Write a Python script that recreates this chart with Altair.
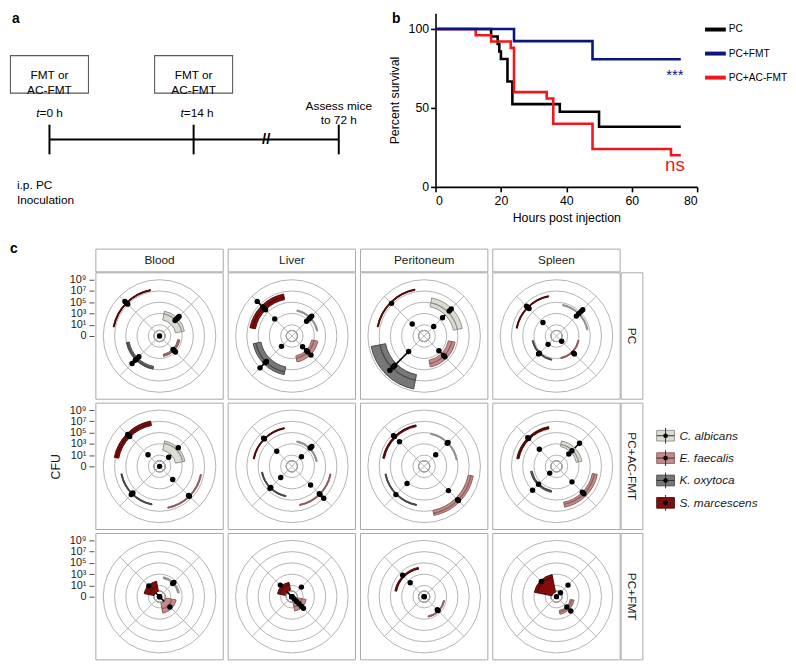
import math
import altair as alt
import pandas as pd

FONT = "Liberation Sans"

# ======================= panel a : schedule =======================
dose_hours = [0, 14]
dose_labels = ["FMT or\nAC-FMT", "FMT or\nAC-FMT"]
time_hours = [0, 14, 72]
time_italic = ["t", "t", ""]
time_rest = ["=0 h", "=14 h", ""]
end_label = ["Assess mice\nto 72 h"]
start_label = ["i.p. PC\nInoculation"]
break_hours = [43]
timeline_span = [0, 72]

# ======================= panel b : survival =======================
km_groups = ["PC", "PC+FMT", "PC+AC-FMT"]
km_colors = ["#000000", "#0b1480", "#f0161b"]
pc_hours = [0, 17, 19, 19.5, 20, 22, 23.5, 38, 50, 75]
pc_surv = [100, 95.2, 90.5, 85.7, 81.0, 66.7, 52.4, 47.6, 38.1, 38.1]
fmt_hours = [0, 24, 48, 75]
fmt_surv = [100, 92.3, 80.8, 80.8]
acfmt_hours = [0, 12.3, 17, 23, 24, 34, 36, 48, 72, 75]
acfmt_surv = [100, 96, 92, 88, 60, 56, 40, 24, 20, 20]
sig_labels = ["***", "ns"]
sig_groups = ["PC+FMT", "PC+AC-FMT"]
sig_hours = [73.2, 73.2]
sig_surv = [71, 14]

# ======================= panel c : CFU polar boxplots =======================
organs = ["Blood", "Liver", "Peritoneum", "Spleen"]
treatments = ["PC", "PC+AC-FMT", "PC+FMT"]
species = ["C. albicans", "E. faecalis", "K. oxytoca", "S. marcescens"]
sp_fill = ["#dcdcd5", "#c38b8b", "#777777", "#860b0b"]
sp_line = ["#8f8f8a", "#8e5e5e", "#474747", "#4e0c0c"]
cfu_ticks = [-1, 1, 3, 5, 7, 9]          # log10 CFU, -1 stands for 0 CFU
cfu_labels = ["0", "10¹", "10³", "10⁵", "10⁷", "10⁹"]

# quartiles per (treatment, organ): [C. alb, E. faec, K. oxy, S. marc] in log10 CFU
box_q1 = {
    ("PC", "Blood"): [1.9, 2.3, 4.5, 7.2],
    ("PC", "Liver"): [3.5, 2.6, 4.6, 5.6],
    ("PC", "Peritoneum"): [4.3, 3.4, 6.0, 7.3],
    ("PC", "Spleen"): [4.5, 2.9, 3.2, 6.1],
    ("PC+AC-FMT", "Blood"): [1.9, 6.4, 5.8, 6.4],
    ("PC+AC-FMT", "Liver"): [3.4, 5.9, 4.3, 5.8],
    ("PC+AC-FMT", "Peritoneum"): [4.8, 7.0, 5.9, 6.2],
    ("PC+AC-FMT", "Spleen"): [2.6, 5.5, 3.4, 5.8],
    ("PC+FMT", "Blood"): [2.3, 0.2, -1, 0.0],
    ("PC+FMT", "Liver"): [-1, 0.0, -1, 0.2],
    ("PC+FMT", "Peritoneum"): [-1, 2.5, -1, 4.0],
    ("PC+FMT", "Spleen"): [-1, 1.5, -1, -0.2],
}
box_med = {
    ("PC", "Blood"): [3.0, 2.5, 4.8, 7.3],
    ("PC", "Liver"): [3.6, 3.0, 5.5, 6.1],
    ("PC", "Peritoneum"): [5.0, 4.0, 7.0, 7.4],
    ("PC", "Spleen"): [4.6, 3.0, 3.3, 6.2],
    ("PC+AC-FMT", "Blood"): [3.2, 6.5, 5.9, 6.8],
    ("PC+AC-FMT", "Liver"): [3.5, 6.0, 4.4, 5.9],
    ("PC+AC-FMT", "Peritoneum"): [4.9, 7.5, 6.0, 6.4],
    ("PC+AC-FMT", "Spleen"): [3.0, 5.9, 3.5, 6.0],
    ("PC+FMT", "Blood"): [2.4, 1.2, -1, 0.8],
    ("PC+FMT", "Liver"): [-1, 0.8, -1, 1.2],
    ("PC+FMT", "Peritoneum"): [-1, 2.6, -1, 4.1],
    ("PC+FMT", "Spleen"): [-1, 1.8, -1, 2.5],
}
box_q3 = {
    ("PC", "Blood"): [3.5, 2.7, 5.0, 7.4],
    ("PC", "Liver"): [3.7, 3.7, 6.0, 6.6],
    ("PC", "Peritoneum"): [5.9, 4.6, 8.6, 7.5],
    ("PC", "Spleen"): [4.7, 3.1, 3.4, 6.3],
    ("PC+AC-FMT", "Blood"): [3.6, 6.6, 6.0, 7.2],
    ("PC+AC-FMT", "Liver"): [3.6, 6.1, 4.5, 6.0],
    ("PC+AC-FMT", "Peritoneum"): [5.0, 7.9, 6.1, 6.5],
    ("PC+AC-FMT", "Spleen"): [3.6, 6.4, 3.7, 6.2],
    ("PC+FMT", "Blood"): [2.6, 2.0, -1, 1.8],
    ("PC+FMT", "Liver"): [-1, 1.6, -1, 1.6],
    ("PC+FMT", "Peritoneum"): [-1, 2.7, -1, 4.3],
    ("PC+FMT", "Spleen"): [-1, 2.2, -1, 3.0],
}
cfu_points = {
    ("PC", "Blood"): [[-1, 2.9, 3.2, 3.6, 3.9], [2.4, 2.7, 3.0], [4.2, 4.8, 5.1, 5.9], [7.0, 7.3, 7.7]],
    ("PC", "Liver"): [[2.7, 3.3, 3.7, 4.0], [1.7, 2.7, 3.0, 3.8], [1.6, 5.4, 5.7, 7.0], [3.3, 5.6, 6.0, 6.3, 7.7]],
    ("PC", "Peritoneum"): [[1.4, 3.6, 5.3, 5.8], [2.7, 3.9, 4.2], [2.9, 6.4, 6.8, 7.6], [2.0, 7.2]],
    ("PC", "Spleen"): [[4.0, 4.6, 5.2, 5.6], [0.3, 3.3, 3.5], [1.1, 3.3, 3.5], [2.4, 5.9, 6.2, 6.5]],
    ("PC+AC-FMT", "Blood"): [[-1, 1.3, 3.7], [2.3, 6.3, 6.5], [5.7, 5.9, 6.1], [1.9, 6.5, 6.8, 7.0]],
    ("PC+AC-FMT", "Liver"): [[1.4, 3.6, 3.8, 4.0], [3.7, 5.9, 6.1, 7.0], [1.8, 4.3, 4.5], [2.8, 5.9, 6.1]],
    ("PC+AC-FMT", "Peritoneum"): [[1.9, 4.8, 5.0], [5.1, 7.4, 7.6], [3.3, 6.1], [5.2, 6.5, 6.7]],
    ("PC+AC-FMT", "Spleen"): [[2.1, 2.9, 4.8], [2.9, 5.5, 5.9], [0.7, 3.5, 5.0], [3.3, 6.0, 6.2]],
    ("PC+FMT", "Blood"): [[2.3, 2.6], [-1, 1.6], [-1], [-1, 1.7]],
    ("PC+FMT", "Liver"): [[-1, 1.4], [-0.4, 0.2, 0.8, 1.4, 1.9], [-1], [-1, 1.9]],
    ("PC+FMT", "Peritoneum"): [[-1], [2.3, 2.5], [-1], [2.5, 4.4]],
    ("PC+FMT", "Spleen"): [[0.0, 1.9], [1.6, 2.6], [-1], [2.8]],
}

# ------------------------------------------------------------------
# geometry / style constants
W, H, R = 129, 128, 57          # panel size and radius of the outer ring (px)
GRID = "#a0a0a0"
FRAME = "#a8a8a8"
LEFT = 87                       # distance from grid/plot origin to left page edge
tmin, tmax = cfu_ticks[0], cfu_ticks[-1]
span = tmax - tmin
ppu = R / span
xdom, ydom = W / 2 / ppu, H / 2 / ppu
xs = alt.Scale(domain=[-xdom, xdom], nice=False, zero=False)
ys = alt.Scale(domain=[-ydom, ydom], nice=False, zero=False)
rs = alt.Scale(type="linear", domain=[tmin, tmax], range=[0, R], zero=False, nice=False)
half = 0.75 * math.pi / len(species)
ANG = f"(datum.idx + 0.5) * 2 * PI / {len(species)}"
fill_scale = alt.Scale(domain=species, range=sp_fill)
line_scale = alt.Scale(domain=species, range=sp_line)

# ------------------------------------------------------------------
# tables for panel c
box_rows, pt_rows, wh_rows = [], [], []
for key in box_q1:
    t, o = key
    for i, sp in enumerate(species):
        q1, md, q3 = box_q1[key][i], box_med[key][i], box_q3[key][i]
        pts = cfu_points[key][i]
        box_rows.append(dict(treat=t, organ=o, species=sp, idx=i, q1=q1, med=md, q3=q3))
        for v in pts:
            pt_rows.append(dict(treat=t, organ=o, species=sp, idx=i, cfu=v))
        if q3 > tmin:
            iqr = q3 - q1
            lo = min([p for p in pts if p >= q1 - 1.5 * iqr] + [q1])
            hi = max([p for p in pts if p <= q3 + 1.5 * iqr] + [q3])
            if lo < q1:
                wh_rows.append(dict(treat=t, organ=o, species=sp, idx=i, a=lo, b=q1))
            if hi > q3:
                wh_rows.append(dict(treat=t, organ=o, species=sp, idx=i, a=q3, b=hi))
box_df = pd.DataFrame(box_rows)
pt_df = pd.DataFrame(pt_rows)
wh_df = pd.DataFrame(wh_rows)
ring_df = pd.DataFrame({"tick": cfu_ticks[1:]})
sp_df = pd.DataFrame({"species": species, "idx": list(range(len(species)))})
one_df = pd.DataFrame({"k": [0]})

axis_vals = [v - tmin for v in cfu_ticks]
label_expr = "[" + ",".join("'" + l + "'" for l in cfu_labels) + "][indexof([" + ",".join(str(v) for v in axis_vals) + "], datum.value)]"


def cfu_panel(ti, oi):
    t, o = treatments[ti], organs[oi]
    bsub = box_df[(box_df.treat == t) & (box_df.organ == o) & (box_df.q3 > tmin)]
    psub = pt_df[(pt_df.treat == t) & (pt_df.organ == o)]
    wsub = wh_df[(wh_df.treat == t) & (wh_df.organ == o)]
    if oi == 0:
        yaxis = alt.Axis(values=axis_vals, labelExpr=label_expr, title=("CFU" if ti == 1 else ""),
                         domain=False, grid=False, tickSize=5, tickColor="#4d4d4d", tickWidth=1,
                         offset=2, labelPadding=3, labelFontSize=11, labelColor="#1a1a1a",
                         labelOverlap=False, labelBound=False, labelFlush=False,
                         titleFontSize=12.5, titleFontWeight="normal", titleColor="#1a1a1a",
                         titlePadding=7)
    else:
        yaxis = None
    X = lambda f: alt.X(f, type="quantitative", scale=xs, axis=None)
    Y = lambda f: alt.Y(f, type="quantitative", scale=ys, axis=yaxis)

    frame = alt.Chart(one_df).mark_rect(fillOpacity=0, stroke=FRAME, strokeWidth=1).encode(
        x=alt.value(0), x2=alt.value(W), y=alt.value(0), y2=alt.value(H))
    rings = alt.Chart(ring_df).mark_arc(theta=0, theta2=2 * math.pi, fillOpacity=0, stroke=GRID,
                                        strokeWidth=0.8).encode(
        radius=alt.Radius("tick:Q", scale=rs, stack=False))
    diag = alt.Chart(sp_df).transform_calculate(
        ang=ANG, x0="0", y0="0",
        x1=f"{span} * sin(datum.ang)", y1=f"{span} * cos(datum.ang)"
    ).mark_rule(color=GRID, strokeWidth=0.8).encode(x=X("x0"), y=Y("y0"), x2="x1:Q", y2="y1:Q")
    layers = [frame, rings, diag]
    if len(bsub):
        boxes = alt.Chart(bsub).transform_calculate(
            ang=ANG, t0=f"datum.ang - {half}", t1=f"datum.ang + {half}"
        ).mark_arc(strokeWidth=1).encode(
            theta=alt.Theta("t0:Q", scale=None), theta2="t1:Q",
            radius=alt.Radius("q3:Q", scale=rs), radius2="q1:Q",
            fill=alt.Fill("species:N", scale=fill_scale, legend=None),
            stroke=alt.Stroke("species:N", scale=line_scale, legend=None))
        meds = alt.Chart(bsub).transform_calculate(
            ang=ANG, t0=f"datum.ang - {half}", t1=f"datum.ang + {half}"
        ).mark_arc(fillOpacity=0, strokeWidth=1.3).encode(
            theta=alt.Theta("t0:Q", scale=None), theta2="t1:Q",
            radius=alt.Radius("med:Q", scale=rs), radius2="med:Q",
            stroke=alt.Stroke("species:N", scale=line_scale, legend=None))
        layers += [boxes, meds]
    if len(wsub):
        whisk = alt.Chart(wsub).transform_calculate(
            ang=ANG,
            xa=f"(datum.a - ({tmin})) * sin(datum.ang)", ya=f"(datum.a - ({tmin})) * cos(datum.ang)",
            xb=f"(datum.b - ({tmin})) * sin(datum.ang)", yb=f"(datum.b - ({tmin})) * cos(datum.ang)"
        ).mark_rule(color="black", strokeWidth=1.6).encode(x=X("xa"), y=Y("ya"), x2="xb:Q", y2="yb:Q")
        layers.append(whisk)
    pts = alt.Chart(psub).transform_calculate(
        ang=ANG,
        px=f"(datum.cfu - ({tmin})) * sin(datum.ang)", py=f"(datum.cfu - ({tmin})) * cos(datum.ang)"
    ).mark_circle(size=30, color="black", opacity=1).encode(x=X("px"), y=Y("py"))
    layers.append(pts)

    if ti == 0:
        hdf = pd.DataFrame({"organ": [o]})
        layers.append(alt.Chart(hdf).mark_rect(fill="white", stroke=FRAME, strokeWidth=1).encode(
            x=alt.value(0), x2=alt.value(W), y=alt.value(-24), y2=alt.value(-1)))
        layers.append(alt.Chart(hdf).mark_text(fontSize=12, baseline="middle", color="#1a1a1a").encode(
            x=alt.value(W / 2), y=alt.value(-12.5), text="organ:N"))
    if oi == 3:
        sdf = pd.DataFrame({"treat": [t]})
        layers.append(alt.Chart(sdf).mark_rect(fill="white", stroke=FRAME, strokeWidth=1).encode(
            x=alt.value(W + 1), x2=alt.value(W + 23), y=alt.value(0), y2=alt.value(H)))
        layers.append(alt.Chart(sdf).mark_text(fontSize=12, baseline="middle", angle=90, color="#1a1a1a").encode(
            x=alt.value(W + 12), y=alt.value(H / 2), text="treat:N"))
    if ti == 0 and oi == 0:
        layers.append(alt.Chart(pd.DataFrame({"s": ["c"]})).mark_text(
            fontSize=14, fontWeight="bold", align="left", baseline="top").encode(
            x=alt.value(-LEFT), y=alt.value(-31), text="s:N"))

    ch = alt.layer(*layers)
    if ti == 1 and oi == 3:
        ly = alt.Y("species:N", scale=alt.Scale(type="point", domain=species, range=[33, 101], padding=0), axis=None)
        lbox = alt.Chart(sp_df).mark_point(shape="M-1,-0.6H1V0.6H-1Z", size=324, filled=True, opacity=1,
                                          strokeWidth=0.9).encode(
            x=alt.value(W + 46), y=ly,
            fill=alt.Fill("species:N", scale=fill_scale, legend=None),
            stroke=alt.Stroke("species:N", scale=line_scale, legend=None))
        lwhisk = alt.Chart(sp_df).mark_point(shape="M0,-1V1", size=256, filled=False, opacity=1,
                                            strokeWidth=1, color="#333333").encode(x=alt.value(W + 46), y=ly)
        lmed = alt.Chart(sp_df).mark_point(shape="M-1,0H1", size=324, filled=False, opacity=1,
                                          strokeWidth=1, color="#333333").encode(x=alt.value(W + 46), y=ly)
        ldot = alt.Chart(sp_df).mark_circle(size=22, color="black", opacity=1).encode(x=alt.value(W + 46), y=ly)
        ltxt = alt.Chart(sp_df).mark_text(fontSize=12, fontStyle="italic", align="left", baseline="middle",
                                         color="#1a1a1a").encode(x=alt.value(W + 60), y=ly, text="species:N")
        leg = alt.layer(lbox, lwhisk, lmed, ldot, ltxt)
        ch = alt.layer(ch, leg).resolve_scale(y="independent")
    return ch.properties(width=W, height=H)


panels = [cfu_panel(ti, oi) for ti in range(len(treatments)) for oi in range(len(organs))]
grid = alt.concat(*panels, columns=4, spacing={"row": 4, "column": 5}, bounds="flush")

# ------------------------------------------------------------------
# panel a chart (its origin is aligned with the grid origin, content reaches LEFT px to the left)
xa = alt.Scale(domain=[0, 14, 72], range=[40 - LEFT, 186 - LEFT, 333 - LEFT])
XA = alt.X("hour:Q", scale=xa, axis=None)
dose_df = pd.DataFrame({"hour": dose_hours, "label": dose_labels})
time_df = pd.DataFrame({"hour": time_hours, "it": time_italic, "rest": time_rest})

a_boxes = alt.Chart(dose_df).mark_point(shape="M-1,-0.481H1V0.481H-1Z", size=6241, filled=False,
                                        stroke="#5a5a5a", strokeWidth=1.1, opacity=1).encode(x=XA, y=alt.value(62))
a_boxtext = alt.Chart(dose_df).mark_text(fontSize=12, lineBreak="\n", lineHeight=15, baseline="middle").encode(
    x=XA, y=alt.value(63), text="label:N")
a_line = alt.Chart(pd.DataFrame({"h0": [timeline_span[0]], "h1": [timeline_span[1]]})).mark_rule(
    strokeWidth=2, color="black").encode(x=alt.X("h0:Q", scale=xa, axis=None), x2="h1:Q", y=alt.value(128))
a_ticks = alt.Chart(time_df).mark_rule(strokeWidth=2, color="black").encode(
    x=XA, y=alt.value(113), y2=alt.value(143))
a_t = alt.Chart(time_df).mark_text(fontSize=12, fontStyle="italic", align="right", dx=-10, baseline="middle").encode(
    x=XA, y=alt.value(101), text="it:N")
a_rest = alt.Chart(time_df).mark_text(fontSize=12, align="left", dx=-10, baseline="middle").encode(
    x=XA, y=alt.value(101), text="rest:N")
a_end = alt.Chart(pd.DataFrame({"hour": [timeline_span[1]], "label": end_label})).mark_text(
    fontSize=12, lineBreak="\n", lineHeight=14, baseline="middle").encode(x=XA, y=alt.value(94), text="label:N")
a_start = alt.Chart(pd.DataFrame({"hour": [timeline_span[0]], "label": start_label})).mark_text(
    fontSize=12, lineBreak="\n", lineHeight=15, baseline="middle", align="left", dx=-33).encode(
    x=XA, y=alt.value(174.5), text="label:N")
a_break = alt.Chart(pd.DataFrame({"hour": break_hours, "s": ["//"]})).mark_text(
    fontSize=15, fontWeight="bold", baseline="middle").encode(x=XA, y=alt.value(128), text="s:N")
a_lab = alt.Chart(pd.DataFrame({"s": ["a"]})).mark_text(fontSize=14, fontWeight="bold", baseline="top",
                                                         align="left").encode(x=alt.value(2 - LEFT), y=alt.value(-1), text="s:N")
panel_a = alt.layer(a_boxes, a_boxtext, a_line, a_ticks, a_t, a_rest, a_end, a_start, a_break, a_lab).properties(
    width=290, height=200)

# ------------------------------------------------------------------
# panel b chart
km_rows = []
for g, hs, ss in [("PC", pc_hours, pc_surv), ("PC+AC-FMT", acfmt_hours, acfmt_surv), ("PC+FMT", fmt_hours, fmt_surv)]:
    for h, s in zip(hs, ss):
        km_rows.append({"group": g, "hours": h, "surv": s})
km_df = pd.DataFrame(km_rows)
sig_df = pd.DataFrame({"label": sig_labels, "group": sig_groups, "hours": sig_hours, "surv": sig_surv})
kmleg_df = pd.DataFrame({"group": km_groups})

axis_b = dict(domainColor="black", domainWidth=1.6, tickColor="black", tickWidth=1.6, tickSize=5,
              labelFontSize=12.5, labelColor="black", titleFontSize=12.5, titleFontWeight="normal",
              titleColor="black", grid=False)
xb_axis = alt.Axis(values=[0, 20, 40, 60, 80], title="Hours post injection", labelPadding=3, titlePadding=5, **axis_b)
yb_axis = alt.Axis(values=[0, 50, 100], title="Percent survival", labelPadding=2, titlePadding=7, **axis_b)
xb_scale = alt.Scale(domain=[0, 80], nice=False)
yb_scale = alt.Scale(domain=[0, 110], nice=False)
km_scale = alt.Scale(domain=km_groups, range=km_colors)
XB = alt.X("hours:Q", scale=xb_scale, axis=xb_axis)
YB = alt.Y("surv:Q", scale=yb_scale, axis=yb_axis)

b_lines = alt.Chart(km_df).mark_line(interpolate="step-after", strokeWidth=2.6).encode(
    x=XB, y=YB, color=alt.Color("group:N", scale=km_scale, legend=None))
b_star = alt.Chart(sig_df.iloc[[0]]).mark_text(fontSize=15, baseline="middle").encode(
    x=XB, y=YB, color=alt.Color("group:N", scale=km_scale, legend=None), text="label:N")
b_ns = alt.Chart(sig_df.iloc[[1]]).mark_text(fontSize=19, baseline="middle").encode(
    x=XB, y=YB, color=alt.Color("group:N", scale=km_scale, legend=None), text="label:N")
b_lab = alt.Chart(pd.DataFrame({"s": ["b"]})).mark_text(fontSize=14, fontWeight="bold", baseline="top",
                                                         align="left").encode(x=alt.value(-44), y=alt.value(-1), text="s:N")
b_main = alt.layer(b_lines, b_star, b_ns, b_lab)

ky = alt.Y("group:N", scale=alt.Scale(type="point", domain=km_groups, range=[16.6, 65.3], padding=0), axis=None)
b_legline = alt.Chart(kmleg_df).mark_rule(strokeWidth=4).encode(
    x=alt.value(273), x2=alt.value(294), y=ky, color=alt.Color("group:N", scale=km_scale, legend=None))
b_legtext = alt.Chart(kmleg_df).mark_text(fontSize=10.3, align="left", baseline="middle", color="black").encode(
    x=alt.value(297), y=ky, text="group:N")
panel_b = alt.layer(b_main, alt.layer(b_legline, b_legtext)).resolve_scale(y="independent").properties(
    width=265, height=176)

top = alt.hconcat(panel_a, panel_b, spacing=54, bounds="flush")
chart = alt.vconcat(top, grid, spacing=18).properties(padding=0).configure(font=FONT).configure_view(stroke=None)

chart.save("out.html", embed_options={"renderer": "svg", "actions": False})
